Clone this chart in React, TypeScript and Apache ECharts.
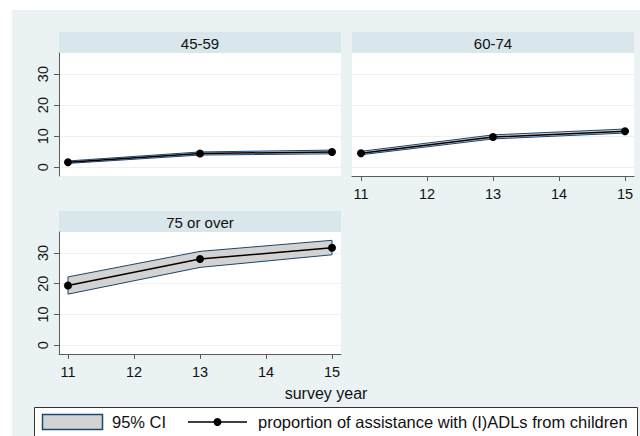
import React, { useEffect, useRef } from "react";
import * as echarts from "echarts";

const years = [11, 13, 15];
const panelTitles = ["45-59", "60-74", "75 or over"];
const est1 = [1.6, 4.4, 4.9];
const lo1 = [1.2, 3.9, 4.3];
const hi1 = [2.0, 4.9, 5.5];
const est2 = [4.5, 9.7, 11.6];
const lo2 = [4.0, 9.1, 11.0];
const hi2 = [5.1, 10.4, 12.3];
const est3 = [19.4, 28.0, 31.7];
const lo3 = [16.6, 25.3, 29.4];
const hi3 = [22.2, 30.5, 34.1];
const xTicks = [11, 12, 13, 14, 15];
const yTicks = [0, 10, 20, 30];
const ciName = "95% CI";
const lineName = "proportion of assistance with (I)ADLs from children";
const xTitle = "survey year";

const FONT = "Liberation Sans, Arial, sans-serif";
const BG = "#EAF2F3";
const STRIP = "#D9E6EB";
const NAVY = "#1A476F";
const BAND = "#D3D3D3";
const AXIS = "#5A5A5A";
const TXT = "#111111";

export default function App() {
  const ref = useRef<HTMLDivElement>(null);
  useEffect(() => {
    const chart = echarts.init(ref.current!, null, { renderer: "svg" });
    const panels = [
      { est: est1, lo: lo1, hi: hi1, grid: { left: 59, top: 53, width: 282, height: 123 }, showX: false, showY: true },
      { est: est2, lo: lo2, hi: hi2, grid: { left: 352, top: 53, width: 282, height: 123 }, showX: true, showY: false },
      { est: est3, lo: lo3, hi: hi3, grid: { left: 59, top: 232, width: 282, height: 122 }, showX: true, showY: true },
    ];
    const grids = panels.map((p) => ({ ...p.grid, show: true, backgroundColor: "#fff", borderWidth: 0 }));
    const xAxes = panels.map((p, i) => ({
      type: "value",
      gridIndex: i,
      min: 10.864,
      max: 15.136,
      axisLine: { show: p.showX, onZero: false, lineStyle: { color: AXIS, width: 1 } },
      axisTick: { show: p.showX, length: 5, customValues: xTicks, lineStyle: { color: AXIS } },
      axisLabel: { show: p.showX, customValues: xTicks, margin: 10, color: TXT, fontSize: 14.5, fontFamily: FONT },
      splitLine: { show: false },
    }));
    const yAxes = panels.map((p, i) => ({
      type: "value",
      gridIndex: i,
      min: -2.85,
      max: 36.8,
      axisLine: { show: p.showY, lineStyle: { color: AXIS, width: 1 } },
      axisTick: { show: p.showY, length: 5, customValues: yTicks, lineStyle: { color: AXIS } },
      axisLabel: { show: p.showY, customValues: yTicks, rotate: 90, margin: 9, color: TXT, fontSize: 14.5, fontFamily: FONT },
      splitLine: { show: true, lineStyle: { color: BG, width: 1 } },
    }));
    const series: any[] = [];
    panels.forEach((p, i) => {
      series.push({
        type: "custom",
        name: ciName,
        xAxisIndex: i,
        yAxisIndex: i,
        data: years.map((y, k) => [y, p.lo[k], p.hi[k]]),
        renderItem: (params: any, api: any) => {
          if (params.dataIndex !== 0) return null;
          const up = years.map((y, k) => api.coord([y, p.hi[k]]));
          const dn = years.map((y, k) => api.coord([y, p.lo[k]])).reverse();
          return {
            type: "polygon",
            shape: { points: up.concat(dn) },
            style: { fill: BAND, stroke: NAVY, lineWidth: 1 },
          };
        },
        z: 2,
      });
      series.push({
        type: "line",
        name: lineName,
        xAxisIndex: i,
        yAxisIndex: i,
        data: years.map((y, k) => [y, p.est[k]]),
        symbol: "circle",
        symbolSize: 8,
        itemStyle: { color: "#000" },
        lineStyle: { color: "#000", width: 1.5 },
        z: 3,
      });
    });
    const strip = (x: number, y: number, label: string) => ({
      type: "group",
      children: [
        { type: "rect", shape: { x, y, width: 282, height: 21 }, style: { fill: STRIP } },
        {
          type: "text",
          x: x + 141,
          y: y + 11,
          style: { text: label, fill: TXT, font: `15px ${FONT}`, textAlign: "center", textVerticalAlign: "middle" },
        },
      ],
    });
    chart.setOption({
      animation: false,
      backgroundColor: BG,
      grid: grids,
      xAxis: xAxes,
      yAxis: yAxes,
      series,
      graphic: [
        { type: "rect", shape: { x: 0, y: 0, width: 640, height: 10 }, style: { fill: "#fff" } },
        { type: "rect", shape: { x: 0, y: 0, width: 12, height: 436 }, style: { fill: "#fff" } },
        strip(59, 32, panelTitles[0]),
        strip(352, 32, panelTitles[1]),
        strip(59, 211, panelTitles[2]),
        {
          type: "text",
          x: 326,
          y: 393,
          style: { text: xTitle, fill: TXT, font: `16px ${FONT}`, textAlign: "center", textVerticalAlign: "middle" },
        },
        { type: "rect", shape: { x: 34.5, y: 407.5, width: 603, height: 40 }, style: { fill: "#fff", stroke: "#333", lineWidth: 1 } },
        { type: "rect", shape: { x: 42.5, y: 414.5, width: 60, height: 15 }, style: { fill: BAND, stroke: NAVY, lineWidth: 1.5 } },
        { type: "text", x: 112, y: 422, style: { text: ciName, fill: TXT, font: `16.5px ${FONT}`, textVerticalAlign: "middle" } },
        { type: "line", shape: { x1: 188, y1: 422, x2: 247, y2: 422 }, style: { stroke: "#000", lineWidth: 1.5 } },
        { type: "circle", shape: { cx: 217.5, cy: 422, r: 4 }, style: { fill: "#000" } },
        { type: "text", x: 258, y: 422, style: { text: lineName, fill: TXT, font: `16.5px ${FONT}`, textVerticalAlign: "middle" } },
      ],
    });
    return () => chart.dispose();
  }, []);
  return <div ref={ref} style={{ position: "fixed", left: 0, top: 0, width: 640, height: 436 }} />;
}
